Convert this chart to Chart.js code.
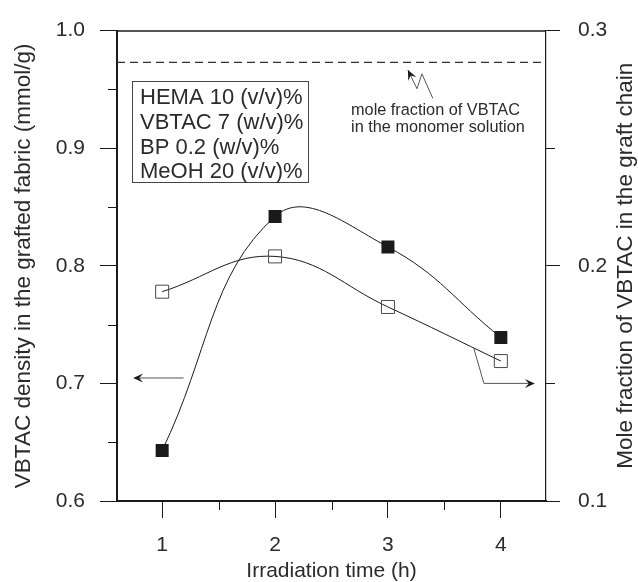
<!DOCTYPE html>
<html>
<head>
<meta charset="utf-8">
<script src="https://cdn.jsdelivr.net/npm/chart.js@4.4.1/dist/chart.umd.min.js"></script>
<style>
  html, body { margin: 0; padding: 0; background: #fff; }
  #wrap { width: 638px; height: 582px; }
</style>
</head>
<body>
<div id="wrap"><canvas id="grafico" width="638" height="582"></canvas></div>
<script>
// values
const timeH = [1, 2, 3, 4];
const vbtacDensity = [0.643, 0.842, 0.816, 0.739];     // left axis, filled squares
const moleFraction = [0.189, 0.204, 0.1825, 0.1595];   // right axis, open squares
const monomerFraction = 0.2865;                         // dashed reference line
const xTickValues = [1, 2, 3, 4];
const yTickValues = [0.6, 0.7, 0.8, 0.9, 1.0];
const y2TickValues = [0.1, 0.2, 0.3];
const conditions = ['HEMA 10 (v/v)%', 'VBTAC 7 (w/v)%', 'BP 0.2 (w/v)%', 'MeOH 20 (v/v)%'];
const noteLines = ['mole fraction of VBTAC', 'in the monomer solution'];
const rightTitle = 'Mole fraction of VBTAC in the graft chain';

const FONT = '"Liberation Sans", Arial, Helvetica, sans-serif';
const INK = '#1a1a1a';
const TEXT = '#2b2b2b';

Chart.defaults.font.family = FONT;
Chart.defaults.color = TEXT;

function arrowHead(ctx, tx, ty, fx, fy, len, half) {
    const ang = Math.atan2(ty - fy, tx - fx);
    ctx.save();
    ctx.translate(tx, ty);
    ctx.rotate(ang);
    ctx.beginPath();
    ctx.moveTo(0, 0);
    ctx.lineTo(-len, -half);
    ctx.lineTo(-len * 0.6, 0);
    ctx.lineTo(-len, half);
    ctx.closePath();
    ctx.fill();
    ctx.restore();
}

// frame top, minor ticks, arrows, boxed conditions, note and right title
const extras = {
    id: 'extras',
    afterDraw(chart) {
        const { ctx, chartArea: a, scales: { x, y, y2 } } = chart;
        ctx.save();
        ctx.strokeStyle = INK;
        ctx.fillStyle = INK;

        // top side of the frame
        ctx.lineWidth = 1.5;
        ctx.beginPath();
        ctx.moveTo(a.left, a.top + 0.5);
        ctx.lineTo(a.right, a.top + 0.5);
        ctx.stroke();

        // minor ticks
        ctx.lineWidth = 1;
        ctx.beginPath();
        [0.65, 0.75, 0.85, 0.95].forEach(v => {
            const p = Math.round(y.getPixelForValue(v)) + 0.5;
            ctx.moveTo(a.left - 9, p); ctx.lineTo(a.left, p);
        });
        [0.15, 0.25].forEach(v => {
            const p = Math.round(y2.getPixelForValue(v)) + 0.5;
            ctx.moveTo(a.right, p); ctx.lineTo(a.right + 9, p);
        });
        [1.5, 2.5, 3.5].forEach(v => {
            const p = Math.round(x.getPixelForValue(v)) + 0.5;
            ctx.moveTo(p, a.bottom); ctx.lineTo(p, a.bottom + 9);
        });
        ctx.stroke();

        // arrow to the left axis
        const la = { x0: x.getPixelForValue(1.19), x1: x.getPixelForValue(0.743), yy: y.getPixelForValue(0.7046) };
        ctx.strokeStyle = '#555';
        ctx.beginPath();
        ctx.moveTo(la.x0, la.yy); ctx.lineTo(la.x1 + 4, la.yy);
        ctx.stroke();
        arrowHead(ctx, la.x1, la.yy, la.x0, la.yy, 10, 4.5);

        // arrow to the right axis
        const r0 = [x.getPixelForValue(3.761), y.getPixelForValue(0.7297)];
        const r1 = [x.getPixelForValue(3.85), y2.getPixelForValue(0.15)];
        const r2 = [x.getPixelForValue(4.301), y2.getPixelForValue(0.15)];
        ctx.beginPath();
        ctx.moveTo(r0[0], r0[1]); ctx.lineTo(r1[0], r1[1]); ctx.lineTo(r2[0] - 4, r2[1]);
        ctx.stroke();
        arrowHead(ctx, r2[0], r2[1], r1[0], r1[1], 10, 4.5);

        // zigzag pointer to the dashed line
        const zz = [[3.398, 0.9423], [3.301, 0.9632], [3.257, 0.9506], [3.177, 0.9665]]
            .map(p => [x.getPixelForValue(p[0]), y.getPixelForValue(p[1])]);
        ctx.beginPath();
        ctx.moveTo(zz[0][0], zz[0][1]);
        for (let i = 1; i < zz.length; i++) ctx.lineTo(zz[i][0], zz[i][1]);
        ctx.stroke();
        arrowHead(ctx, zz[3][0], zz[3][1], zz[2][0], zz[2][1], 10, 4.5);

        // boxed conditions
        const bx0 = x.getPixelForValue(0.733), bx1 = x.getPixelForValue(2.29);
        const by0 = y.getPixelForValue(0.957), by1 = y.getPixelForValue(0.871);
        ctx.strokeStyle = '#444';
        ctx.lineWidth = 1;
        ctx.strokeRect(Math.round(bx0) + 0.5, Math.round(by0) + 0.5, Math.round(bx1 - bx0), Math.round(by1 - by0));
        ctx.fillStyle = TEXT;
        ctx.font = '22px ' + FONT;
        ctx.textAlign = 'left';
        ctx.textBaseline = 'middle';
        conditions.forEach((t, i) => ctx.fillText(t, bx0 + 8, by0 + 17 + i * 24.7));

        // note under the dashed line
        ctx.font = '16.3px ' + FONT;
        const nx = x.getPixelForValue(2.673);
        const ny = y.getPixelForValue(0.932);
        noteLines.forEach((t, i) => ctx.fillText(t, nx, ny + i * 17));

        // right axis title, read bottom to top like the left one
        ctx.font = '22.5px ' + FONT;
        ctx.textAlign = 'center';
        ctx.translate(chart.width - 12, (a.top + a.bottom) / 2);
        ctx.rotate(-Math.PI / 2);
        ctx.fillText(rightTitle, 0, 0);

        ctx.restore();
    }
};

const ctx = document.getElementById('grafico').getContext('2d');
new Chart(ctx, {
    type: 'line',
    data: {
        datasets: [
            {
                label: 'VBTAC density',
                data: timeH.map((t, i) => ({ x: t, y: vbtacDensity[i] })),
                yAxisID: 'y',
                borderColor: INK,
                borderWidth: 1,
                tension: 0.42,
                pointStyle: 'rect',
                pointRadius: 9.2,
                pointHoverRadius: 9.2,
                pointBackgroundColor: INK,
                pointBorderColor: INK,
                pointBorderWidth: 0
            },
            {
                label: 'Mole fraction',
                data: timeH.map((t, i) => ({ x: t, y: moleFraction[i] })),
                yAxisID: 'y2',
                borderColor: INK,
                borderWidth: 1,
                tension: 0.4,
                pointStyle: 'rect',
                pointRadius: 9.2,
                pointHoverRadius: 9.2,
                pointBackgroundColor: 'rgba(0,0,0,0)',
                pointBorderColor: '#4a4a4a',
                pointBorderWidth: 1
            },
            {
                label: 'monomer solution',
                data: [{ x: 0.6, y: monomerFraction }, { x: 4.4, y: monomerFraction }],
                yAxisID: 'y2',
                borderColor: '#333',
                borderWidth: 1.2,
                borderDash: [8, 5],
                pointRadius: 0
            }
        ]
    },
    options: {
        responsive: false,
        animation: false,
        layout: { padding: { top: 23, left: 0, right: 0, bottom: 0 } },
        plugins: {
            legend: { display: false },
            tooltip: { enabled: false }
        },
        scales: {
            x: {
                type: 'linear',
                min: 0.6,
                max: 4.4,
                afterBuildTicks: s => { s.ticks = xTickValues.map(v => ({ value: v })); },
                afterFit: s => { s.height = 81; },
                grid: { drawOnChartArea: false, tickLength: 17, color: INK, tickWidth: 1 },
                border: { display: true, color: INK, width: 2 },
                ticks: { font: { size: 21 }, padding: 15, color: TEXT, maxRotation: 0 },
                title: { display: true, text: 'Irradiation time (h)', font: { size: 21, lineHeight: 1 }, padding: { top: 0, bottom: 0 }, color: TEXT }
            },
            y: {
                type: 'linear',
                position: 'left',
                min: 0.6,
                max: 1.0,
                afterBuildTicks: s => { s.ticks = yTickValues.map(v => ({ value: v })); },
                afterFit: s => { s.width = 117; },
                grid: { drawOnChartArea: false, tickLength: 17, color: INK, tickWidth: 1 },
                border: { display: true, color: INK, width: 2 },
                ticks: { font: { size: 21 }, padding: 15, color: TEXT, callback: v => v.toFixed(1) },
                title: { display: true, text: 'VBTAC density in the grafted fabric (mmol/g)', font: { size: 22.5 }, padding: { top: 10, bottom: 0 }, color: TEXT }
            },
            y2: {
                type: 'linear',
                position: 'right',
                min: 0.1,
                max: 0.3,
                afterBuildTicks: s => { s.ticks = y2TickValues.map(v => ({ value: v })); },
                afterFit: s => { s.width = 92; },
                grid: { drawOnChartArea: false, tickLength: 14, color: INK, tickWidth: 1 },
                border: { display: true, color: INK, width: 1.2 },
                ticks: { font: { size: 21 }, padding: 18, color: TEXT, callback: v => v.toFixed(1) },
                title: { display: false }
            }
        }
    },
    plugins: [extras]
});
</script>
</body>
</html>
